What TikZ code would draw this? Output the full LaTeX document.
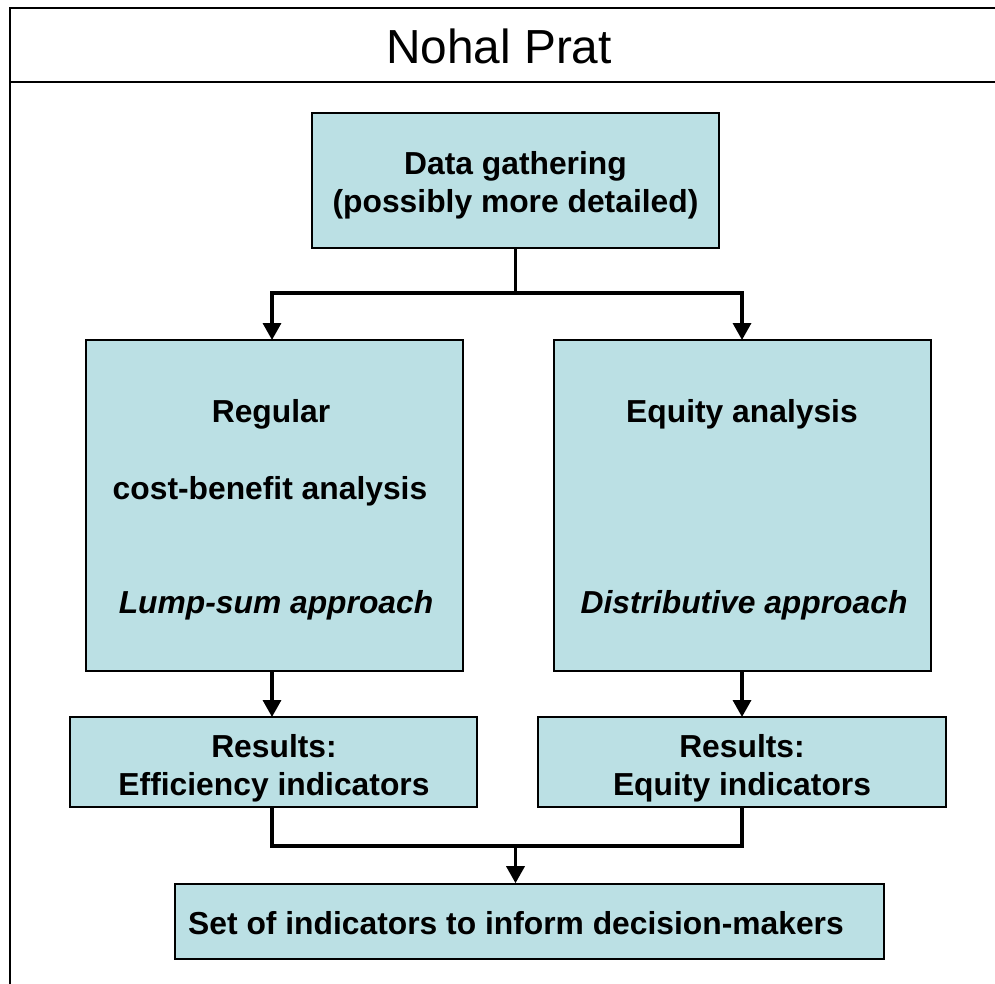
\documentclass[tikz,border=0pt]{standalone}
\usepackage{fontspec}
\setmainfont{Liberation Sans}
\usetikzlibrary{arrows.meta}
\definecolor{boxblue}{RGB}{187,224,228}
\begin{document}
\begin{tikzpicture}[x=1pt,y=-1pt,
  box/.style={draw=black, line width=1.6pt, fill=boxblue, inner sep=0pt},
  btext/.style={font=\bfseries\fontsize{31.8}{38}\selectfont, align=center, inner sep=0pt},
  itext/.style={font=\bfseries\itshape\fontsize{31.8}{38}\selectfont, align=center, inner sep=0pt},
  conn/.style={draw=black, line width=3.4pt},
  arr/.style={conn, -{Triangle[width=18pt,length=17pt]}}]
\useasboundingbox (0,0) rectangle (995,983);
% frame
\draw[line width=2pt] (996,8) -- (9.5,8) -- (9.5,984);
\draw[line width=2pt] (9.5,82) -- (996,82);
\node[inner sep=0pt, font=\fontsize{47.8}{56}\selectfont] (title) at (499,46) {Nohal Prat};
% boxes
\node[box, minimum width=407pt, minimum height=135pt] (data) at (515.5,180.5) {};
\node[btext] (datat) at (515.5,185) {Data gathering\\(possibly more detailed)};
\node[box, minimum width=377pt, minimum height=331pt] (reg) at (274.5,505.5) {};
\node[box, minimum width=377pt, minimum height=331pt] (eqa) at (742.5,505.5) {};
\node[btext] (regt1) at (271,414) {Regular};
\node[btext] (regt2) at (270,491) {cost-benefit analysis};
\node[itext] (regt3) at (276,605) {Lump-sum approach};
\node[btext] (eqt1) at (742,414) {Equity analysis};
\node[itext] (eqt3) at (744,605) {Distributive approach};
\node[box, minimum width=407pt, minimum height=90pt] (reff) at (273.5,762) {};
\node[btext] (refft) at (274,768) {Results:\\Efficiency indicators};
\node[box, minimum width=408pt, minimum height=90pt] (requ) at (742,762) {};
\node[btext] (requt) at (742,768) {Results:\\Equity indicators};
\node[box, minimum width=709pt, minimum height=75pt] (set) at (529.5,921.5) {};
\node[btext] (sett) at (516,923) {Set of indicators to inform decision-makers};
% connectors
\coordinate (j1) at (515.5,293);
\coordinate (j2) at (515.5,846);
\draw[conn] (data.south) -- (j1);
\draw[arr] (j1) -| (272,340);
\draw[arr] (j1) -| (742,340);
\draw[arr] (272,671) -- (272,717);
\draw[arr] (742,671) -- (742,717);
\draw[conn] (272,807) |- (j2) -| (742,807);
\draw[arr] (j2) -- (set.north -| j2);
\end{tikzpicture}
\end{document}
